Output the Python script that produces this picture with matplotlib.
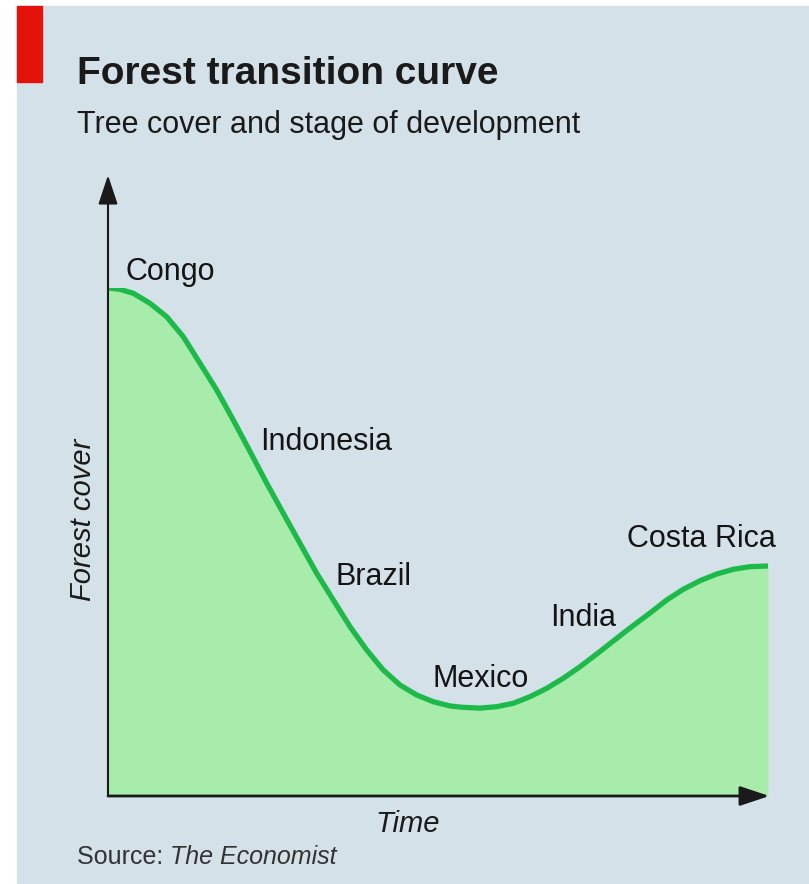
import matplotlib
matplotlib.use("Agg")
import matplotlib.pyplot as plt
from matplotlib.patches import Rectangle

plt.rcParams['font.family'] = ['Liberation Sans', 'DejaVu Sans']

# curve (time 0-100, forest cover 0-100)
time = [0, 1.82, 3.83, 6.36, 8.89, 11.41, 13.94, 16.47, 18.98, 21.52,
        24.05, 26.56, 29.09, 31.62, 34.14, 36.67, 39.20, 41.71, 44.24, 46.77,
        49.29, 51.82, 53.83, 56.36, 58.89, 61.41, 63.94, 66.47, 68.98, 71.52,
        74.05, 76.56, 79.09, 82.12, 84.65, 87.17, 89.70, 92.23, 94.74, 97.27,
        100]
cover = [100, 99.74, 98.96, 96.99, 94.35, 90.41, 85.18, 79.92, 74.02, 67.81,
         61.56, 55.65, 49.74, 43.84, 38.58, 33.33, 28.74, 24.80, 21.85, 19.88,
         18.56, 17.72, 17.45, 17.30, 17.58, 18.25, 19.55, 21.20, 23.17, 25.45,
         27.95, 30.51, 33.07, 36.02, 38.58, 40.69, 42.38, 43.70, 44.63, 45.14,
         45.28]

countries = ["Congo", "Indonesia", "Brazil", "Mexico", "India", "Costa Rica"]
label_x = [2.6, 23.0, 34.4, 49.1, 67.0, 78.6]
label_y = [101.6, 68.1, 41.5, 21.5, 33.5, 49.0]

bg = "#d5e1e9"
fill_col = "#a8ecab"
line_col = "#1db94a"

W, H = 809, 884
fig = plt.figure(figsize=(W / 100, H / 100), dpi=100)
fig.patch.set_facecolor("white")

# background panel and red tag
fig.patches.append(Rectangle((17 / W, 0), 1 - 17 / W, 1 - 6 / H,
                             transform=fig.transFigure, color=bg, zorder=0))
fig.patches.append(Rectangle((17 / W, 1 - 82 / H), 25 / W, 76 / H,
                             transform=fig.transFigure, color="#e3120b", zorder=1))

fig.text(77 / W, 1 - 84 / H, "Forest transition curve", fontsize=28,
         fontweight="bold", color="#1a1a1a", va="baseline")
fig.text(77 / W, 1 - 133 / H, "Tree cover and stage of development",
         fontsize=22, color="#1a1a1a", va="baseline")

ax = fig.add_axes([108 / W, 88 / H, 660 / W, 508 / H])
ax.set_zorder(5)
ax.set_facecolor("none")
ax.set_xlim(0, 100)
ax.set_ylim(0, 100)
for s in ax.spines.values():
    s.set_visible(False)
ax.set_xticks([])
ax.set_yticks([])

ax.fill_between(time, cover, 0, color=fill_col, lw=0, zorder=1)
ax.plot(time, cover, color=line_col, lw=3.8, solid_capstyle="butt",
        solid_joinstyle="round", zorder=2)

# axis arrows
head = "-|>,head_length=1.8,head_width=0.6"
ax.annotate("", xy=(0, 122.2), xytext=(0, 0), annotation_clip=False,
            arrowprops=dict(arrowstyle=head, color="#1a1a1a", lw=1.5,
                            shrinkA=0, shrinkB=0))
ax.annotate("", xy=(100.2, 0), xytext=(0, 0), annotation_clip=False,
            arrowprops=dict(arrowstyle=head, color="#1a1a1a", lw=2,
                            shrinkA=0, shrinkB=0))

for name, x, y in zip(countries, label_x, label_y):
    ax.text(x, y, name, fontsize=22, color="#141414", va="baseline", ha="left")

fig.text(83 / W, 1 - 520 / H, "Forest cover", fontsize=21, style="italic",
         rotation=90, ha="center", va="center", color="#1a1a1a")
fig.text(408 / W, 1 - 824 / H, "Time", fontsize=21, style="italic",
         ha="center", va="center", color="#1a1a1a")
t = fig.text(77 / W, 1 - 864 / H, "Source: ", fontsize=18, color="#333333",
             va="baseline")
fig.canvas.draw()
bb = t.get_window_extent()
fig.text(bb.x1 / W, 1 - 864 / H, "The Economist", fontsize=18, style="italic",
         color="#333333", va="baseline")

fig.savefig("out.png", dpi=100, facecolor=fig.get_facecolor())
